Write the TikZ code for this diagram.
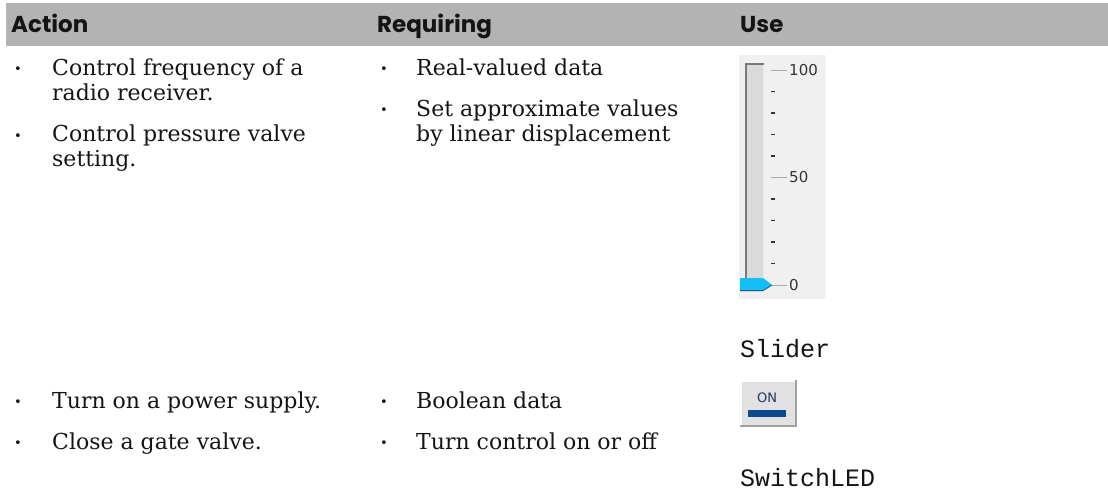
\documentclass[tikz,border=0pt]{standalone}
\usepackage{fontspec}
\setmainfont{DejaVu Serif}
\newfontfamily\headfont{Poppins}
\newfontfamily\codefont{Liberation Mono}
\newfontfamily\uifont{DejaVu Sans}

\definecolor{headgray}{RGB}{179,179,179}
\definecolor{inktext}{RGB}{20,20,20}
\definecolor{panelgray}{RGB}{240,240,240}
\definecolor{trackfill}{RGB}{218,218,218}
\definecolor{trackedge}{RGB}{120,120,120}
\definecolor{tickgray}{RGB}{170,170,170}
\definecolor{thumbblue}{RGB}{18,190,245}
\definecolor{thumbedge}{RGB}{40,90,120}
\definecolor{btnface}{RGB}{225,225,225}
\definecolor{btnshade}{RGB}{160,160,160}
\definecolor{onblue}{RGB}{12,72,140}
\definecolor{ontext}{RGB}{30,50,100}

\begin{document}
\begin{tikzpicture}[x=1pt,y=-1pt,
  colhead/.style={anchor=base west, inner sep=0pt, text=inktext,
    font=\headfont\bfseries\fontsize{23}{26}\selectfont},
  body/.style={anchor=base west, inner sep=0pt, text=inktext,
    font=\fontsize{22}{25}\selectfont},
  bulletmark/.style={anchor=base west, inner sep=0pt, text=inktext,
    font=\fontsize{13}{13}\selectfont},
  widgetname/.style={anchor=base west, inner sep=0pt, text=inktext,
    font=\codefont\fontsize{25}{28}\selectfont},
  scalelabel/.style={anchor=west, inner sep=0pt, text=black!80,
    font=\uifont\fontsize{15}{15}\selectfont}]

\useasboundingbox (0,0) rectangle (1108,492);

% header bar
\fill[headgray] (6,3) rectangle (1108,46);
\node[colhead] (hAction) at (11,33) {Action};
\node[colhead] (hReq) at (377,33) {Requiring};
\node[colhead] (hUse) at (740,33) {Use};

% first row: action column
\node[bulletmark] (ba1) at (14,74) {•};
\node[body] (a1a) at (52,76) {Control frequency of a};
\node[body] (a1b) at (52,101) {radio receiver.};
\node[bulletmark] (ba2) at (14,140) {•};
\node[body] (a2a) at (52,142) {Control pressure valve};
\node[body] (a2b) at (52,167) {setting.};

% first row: requiring column
\node[bulletmark] (br1) at (380,74) {•};
\node[body] (r1a) at (416,76) {Real-valued data};
\node[bulletmark] (br2) at (380,115) {•};
\node[body] (r2a) at (416,117) {Set approximate values};
\node[body] (r2b) at (416,142) {by linear displacement};

% slider widget
\fill[panelgray] (739,55) rectangle (826,299);
\fill[trackfill] (745,63) rectangle (764,283);
\draw[trackedge, line width=2pt] (746,283) -- (746,64) -- (764,64);
\draw[white!92!black, line width=1pt] (763.5,65) -- (763.5,283);
\foreach \i in {0,...,10}{
  \pgfmathsetmacro{\ty}{70+21.5*\i}
  \ifnum\i=0 \draw[tickgray] (771,\ty) -- (787,\ty);
  \else\ifnum\i=5 \draw[tickgray] (771,\ty) -- (787,\ty);
  \else\ifnum\i=10 \draw[tickgray] (772,\ty) -- (787,\ty);
  \else \draw[black!80, line width=1.3pt] (771,\ty) -- (775,\ty);
  \fi\fi\fi
}
\node[scalelabel] (s100) at (789,70) {100};
\node[scalelabel] (s50) at (789,177.5) {50};
\node[scalelabel] (s0) at (789,285) {0};
\fill[thumbblue] (740,278) -- (763,278) -- (772,285) -- (763,291) -- (740,291) -- cycle;
\draw[thumbedge, line width=0.8pt] (740,290.6) -- (763,290.6) -- (772,285);
\node[widgetname] (wSlider) at (740,357) {Slider};

% second row: action column
\node[bulletmark] (ba3) at (14,406) {•};
\node[body] (a3a) at (52,408) {Turn on a power supply.};
\node[bulletmark] (ba4) at (14,447) {•};
\node[body] (a4a) at (52,449) {Close a gate valve.};

% second row: requiring column
\node[bulletmark] (br3) at (380,406) {•};
\node[body] (r3a) at (416,408) {Boolean data};
\node[bulletmark] (br4) at (380,447) {•};
\node[body] (r4a) at (416,449) {Turn control on or off};

% switch button widget
\fill[btnface] (740,380) rectangle (797,427);
\draw[white, line width=1.5pt] (741,426) -- (741,381) -- (796,381);
\draw[btnshade, line width=2pt] (740,426) -- (796,426) -- (796,380);
\node[inner sep=0pt, text=ontext, font=\uifont\fontsize{13}{13}\selectfont] (onText) at (767,398) {ON};
\fill[onblue] (748,410) rectangle (786,417);
\node[widgetname] (wSwitch) at (740,486) {SwitchLED};

\end{tikzpicture}
\end{document}
